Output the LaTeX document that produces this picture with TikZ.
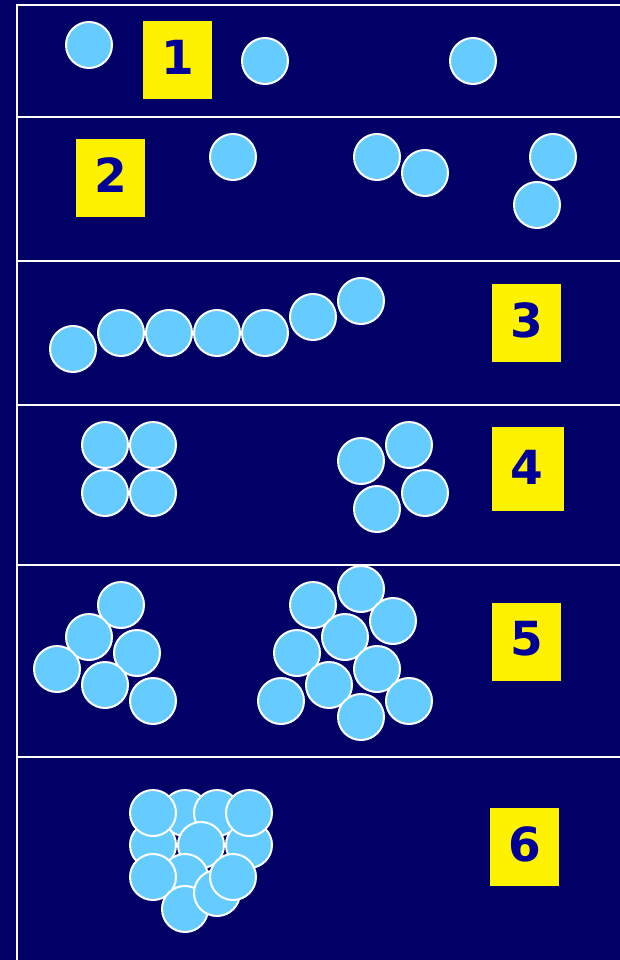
\documentclass[tikz,border=0pt]{standalone}
\usepackage{fontspec}
\newfontfamily\lblfont{DejaVu Sans}
\definecolor{navy}{HTML}{000066}
\definecolor{ballblue}{HTML}{66CCFF}
\definecolor{digitblue}{HTML}{000099}
\begin{document}
\begin{tikzpicture}[x=1pt,y=-1pt,
  ball/.style={draw=white,line width=2pt,fill=ballblue},
  numbox/.style={fill=yellow,inner sep=0pt,minimum width=69pt,minimum height=78pt},
  numtext/.style={text=digitblue,font=\lblfont\bfseries\fontsize{47}{47}\selectfont,inner sep=0pt},
  rulel/.style={draw=white,line width=2pt}]
\fill[navy] (0,0) rectangle (620,960);
\useasboundingbox (0,0) rectangle (620,960);
% frame lines
\coordinate (tl) at (17,5);
\coordinate (bl) at (17,960);
\coordinate (tr) at (620,5);
\draw[rulel] (bl) -- (tl) -- (tr);
\foreach \y in {117,261,405,565,757} \draw[rulel] (17,\y) -- (620,\y);
% row 1
\foreach \x/\y in {89/45,265/61,473/61} \draw[ball] (\x,\y) circle[radius=23pt];
\node[numbox] (b1) at (177.5,60) {};
\node[numtext] (t1) at (177.5,57) {1};
% row 2
\foreach \x/\y in {233/157,377/157,425/173,553/157,537/205} \draw[ball] (\x,\y) circle[radius=23pt];
\node[numbox] (b2) at (110.5,178) {};
\node[numtext] (t2) at (110.5,175) {2};
% row 3
\foreach \x/\y in {73/349,121/333,169/333,217/333,265/333,313/317,361/301} \draw[ball] (\x,\y) circle[radius=23pt];
\node[numbox] (b3) at (526.5,322.5) {};
\node[numtext] (t3) at (526.5,320) {3};
% row 4
\foreach \x/\y in {105/445,153/445,105/493,153/493,361/461,409/445,425/493,377/509} \draw[ball] (\x,\y) circle[radius=23pt];
\node[numbox,minimum width=72pt,minimum height=84pt] (b4) at (528,469) {};
\node[numtext] (t4) at (527,467) {4};
% row 5
\foreach \x/\y in {121/605,89/637,137/653,57/669,105/685,153/701} \draw[ball] (\x,\y) circle[radius=23pt];
\foreach \x/\y in {361/589,313/605,393/621,345/637,297/653,377/669,329/685,281/701,361/717,409/701} \draw[ball] (\x,\y) circle[radius=23pt];
\node[numbox] (b5) at (526.5,642) {};
\node[numtext] (t5) at (526.5,639) {5};
% row 6
\foreach \x/\y in {185/813,217/813,153/845,249/845,153/813,249/813,201/845,185/877,153/877,185/909,217/893,233/877} \draw[ball] (\x,\y) circle[radius=23pt];
\node[numbox] (b6) at (524.5,846.5) {};
\node[numtext] (t6) at (524.5,844) {6};
\end{tikzpicture}
\end{document}
